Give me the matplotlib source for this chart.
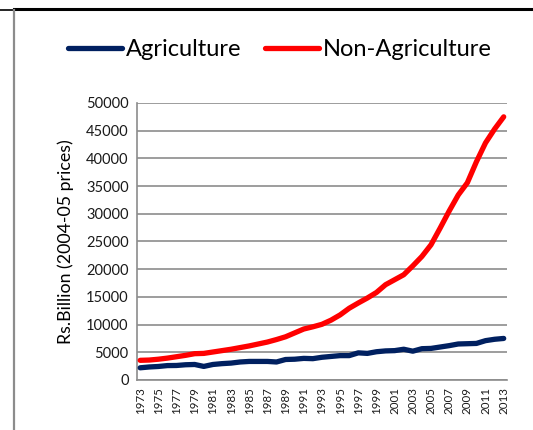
import matplotlib
matplotlib.use('Agg')
import matplotlib.pyplot as plt
from matplotlib.lines import Line2D

plt.rcParams['font.family'] = ['Lato', 'DejaVu Sans']

# GDP by sector, Rs. billion at 2004-05 prices
years = list(range(1973, 2014))
agriculture = [2200, 2350, 2440, 2600, 2620, 2750, 2800, 2450, 2800, 2950,
               3050, 3250, 3350, 3350, 3350, 3250, 3700, 3750, 3900, 3850,
               4100, 4250, 4400, 4400, 4900, 4800, 5100, 5250, 5300, 5550,
               5200, 5650, 5700, 5950, 6200, 6500, 6550, 6600, 7100, 7350,
               7500]
non_agriculture = [3550, 3600, 3750, 3950, 4200, 4450, 4750, 4800, 5050, 5300,
                   5550, 5850, 6150, 6500, 6850, 7300, 7800, 8500, 9200, 9600,
                   10050, 10800, 11750, 12950, 13900, 14800, 15800, 17200, 18100, 19000,
                   20600, 22300, 24400, 27400, 30500, 33400, 35600, 39400, 42800, 45300,
                   47500]

navy = '#002060'
red = '#ff0000'
grid_grey = '#8c8c8c'

fig = plt.figure(figsize=(5.33, 4.3), dpi=100)
ax = fig.add_axes([0.257, 0.1163, 0.694, 0.6442])

idx = list(range(len(years)))
ax.plot(idx, agriculture, color=navy, lw=3.8, solid_capstyle='round',
        solid_joinstyle='round', label='Agriculture', zorder=3)
ax.plot(idx, non_agriculture, color=red, lw=3.8, solid_capstyle='round',
        solid_joinstyle='round', label='Non-Agriculture', zorder=3)

ax.set_ylim(0, 50000)
ax.set_xlim(-0.35, len(years) - 1 + 0.35)
ax.set_yticks(range(0, 50001, 5000))
ax.set_yticklabels([str(v) for v in range(0, 50001, 5000)], fontsize=10.5)
ax.set_xticks(idx[::2])
ax.set_xticklabels([str(y) for y in years[::2]], rotation=90, fontsize=8.3)
ax.tick_params(axis='both', length=0, pad=6, colors='#1a1a1a')
ax.tick_params(axis='x', pad=5)

ax.grid(axis='y', color=grid_grey, lw=1.2)
ax.set_axisbelow(True)
for s in ['top', 'right']:
    ax.spines[s].set_visible(False)
for s in ['left', 'bottom']:
    ax.spines[s].set_color(grid_grey)
    ax.spines[s].set_linewidth(1.2)

ax.set_ylabel('Rs.Billion (2004-05 prices)', fontsize=12.8, labelpad=9)

fig.legend(loc='center', bbox_to_anchor=(0.525, 0.884), ncol=2, frameon=False,
           fontsize=17, handlelength=2.3, handletextpad=0.15, columnspacing=1.0)

# page border lines
fig.add_artist(Line2D([14 / 533, 1], [1 - 8.5 / 430, 1 - 8.5 / 430],
                      transform=fig.transFigure, color='black', lw=2.2))
fig.add_artist(Line2D([0, 14 / 533], [1 - 9.5 / 430, 1 - 9.5 / 430],
                      transform=fig.transFigure, color='black', lw=1.2))
fig.add_artist(Line2D([14 / 533, 14 / 533], [0, 1 - 10 / 430],
                      transform=fig.transFigure, color='#8c8c8c', lw=1.6))

fig.savefig('out.png', dpi=100, facecolor='w')
